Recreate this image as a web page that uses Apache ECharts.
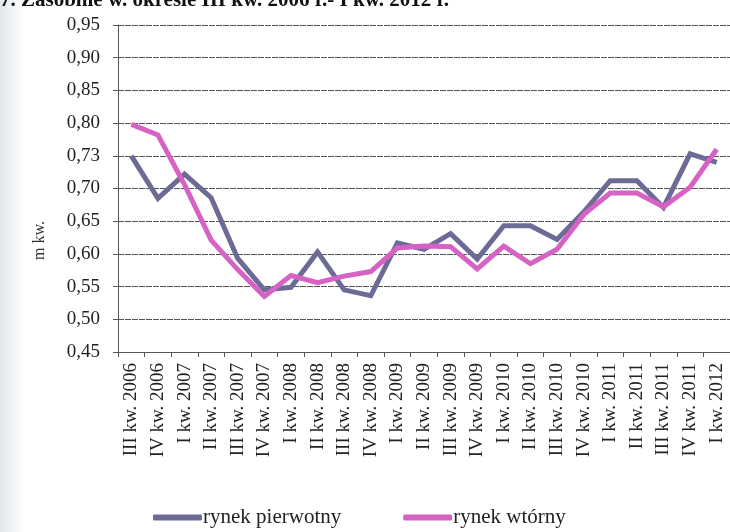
<!DOCTYPE html>
<html>
<head>
<meta charset="utf-8">
<script src="https://cdn.jsdelivr.net/npm/echarts@6/dist/echarts.min.js"></script>
<style>
  html, body { margin: 0; padding: 0; background: #fff; }
</style>
</head>
<body>
<div id="main" style="width: 730px; height: 532px"></div>
<script>
var categories = [
  "III kw. 2006", "IV kw. 2006", "I kw. 2007", "II kw. 2007", "III kw. 2007", "IV kw. 2007",
  "I kw. 2008", "II kw. 2008", "III kw. 2008", "IV kw. 2008", "I kw. 2009", "II kw. 2009",
  "III kw. 2009", "IV kw. 2009", "I kw. 2010", "II kw. 2010", "III kw. 2010", "IV kw. 2010",
  "I kw. 2011", "II kw. 2011", "III kw. 2011", "IV kw. 2011", "I kw. 2012"
];
var rynekPierwotny = [
  0.750, 0.685, 0.722, 0.686, 0.593, 0.545, 0.549, 0.603, 0.545, 0.536, 0.617, 0.607,
  0.631, 0.592, 0.643, 0.643, 0.622, 0.664, 0.712, 0.712, 0.671, 0.753, 0.740
];
var rynekWtorny = [
  0.798, 0.782, 0.706, 0.621, 0.576, 0.535, 0.567, 0.556, 0.566, 0.573, 0.609, 0.612,
  0.611, 0.577, 0.612, 0.585, 0.607, 0.660, 0.693, 0.693, 0.672, 0.702, 0.760
];
var yTickLabels = ["0,45", "0,50", "0,55", "0,60", "0,65", "0,70", "0,73", "0,80", "0,85", "0,90", "0,95"];
var seriesNames = ["rynek pierwotny", "rynek wtórny"];

var serif = "'Liberation Serif', 'DejaVu Serif', serif";

var myChart = echarts.init(document.getElementById("main"));
var option = {
  backgroundColor: "#fff",
  animation: false,
  graphic: [
    {
      type: "rect",
      left: 0, top: 0, z: -10,
      shape: { width: 24, height: 532 },
      style: {
        fill: new echarts.graphic.LinearGradient(0, 0, 1, 0, [
          { offset: 0, color: "#e3e6ee" },
          { offset: 1, color: "#ffffff" }
        ])
      }
    },
    {
      type: "text",
      left: 0, top: -10,
      style: {
        text: "7. Zasobnie w. okresie III kw. 2006 r.- I kw. 2012 r.",
        font: "bold 21px " + serif,
        fill: "#111"
      }
    }
  ],
  grid: {
    left: 118,
    right: -1,
    top: 25,
    bottom: 180,
  },
  legend: {
    data: seriesNames,
    left: 148,
    top: 502,
    icon: "roundRect",
    itemWidth: 49,
    itemHeight: 6,
    itemGap: 62,
    textStyle: {
      fontFamily: serif,
      fontSize: 21,
      color: "#222",
      padding: [0, 0, 0, -4]
    }
  },
  xAxis: {
    type: "category",
    boundaryGap: true,
    data: categories,
    axisLine: { lineStyle: { color: "#555", width: 1 } },
    axisTick: { show: true, length: 5, lineStyle: { color: "#555" } },
    axisLabel: {
      rotate: 90,
      interval: 0,
      margin: 11,
      fontFamily: serif,
      fontSize: 19,
      color: "#222"
    },
    splitLine: { show: false }
  },
  yAxis: {
    type: "value",
    min: 0.45,
    max: 0.95,
    interval: 0.05,
    name: "m kw.",
    nameLocation: "middle",
    nameGap: 70,
    nameRotate: 90,
    nameTextStyle: { fontFamily: serif, fontSize: 16, color: "#333", padding: [0, 104, 0, 0] },
    axisLine: { show: true, lineStyle: { color: "#555", width: 1 } },
    axisTick: { show: true, length: 5, lineStyle: { color: "#555" } },
    axisLabel: {
      margin: 18,
      fontFamily: serif,
      fontSize: 19,
      color: "#222",
      formatter: function (v) {
        var idx = Math.round((v - 0.45) / 0.05);
        return yTickLabels[idx];
      }
    },
    splitLine: { show: true, lineStyle: { color: "#555", width: 1.2, type: [6, 1] } }
  },
  series: [
    {
      name: seriesNames[0],
      type: "line",
      data: rynekPierwotny,
      symbol: "none",
      lineStyle: { color: "#6c6b96", width: 5, join: "miter" },
      itemStyle: { color: "#6c6b96" },
      z: 2
    },
    {
      name: seriesNames[1],
      type: "line",
      data: rynekWtorny,
      symbol: "none",
      lineStyle: { color: "#d662c4", width: 5, join: "miter" },
      itemStyle: { color: "#d662c4" },
      z: 3
    }
  ]
};

option && myChart.setOption(option);
</script>
</body>
</html>
